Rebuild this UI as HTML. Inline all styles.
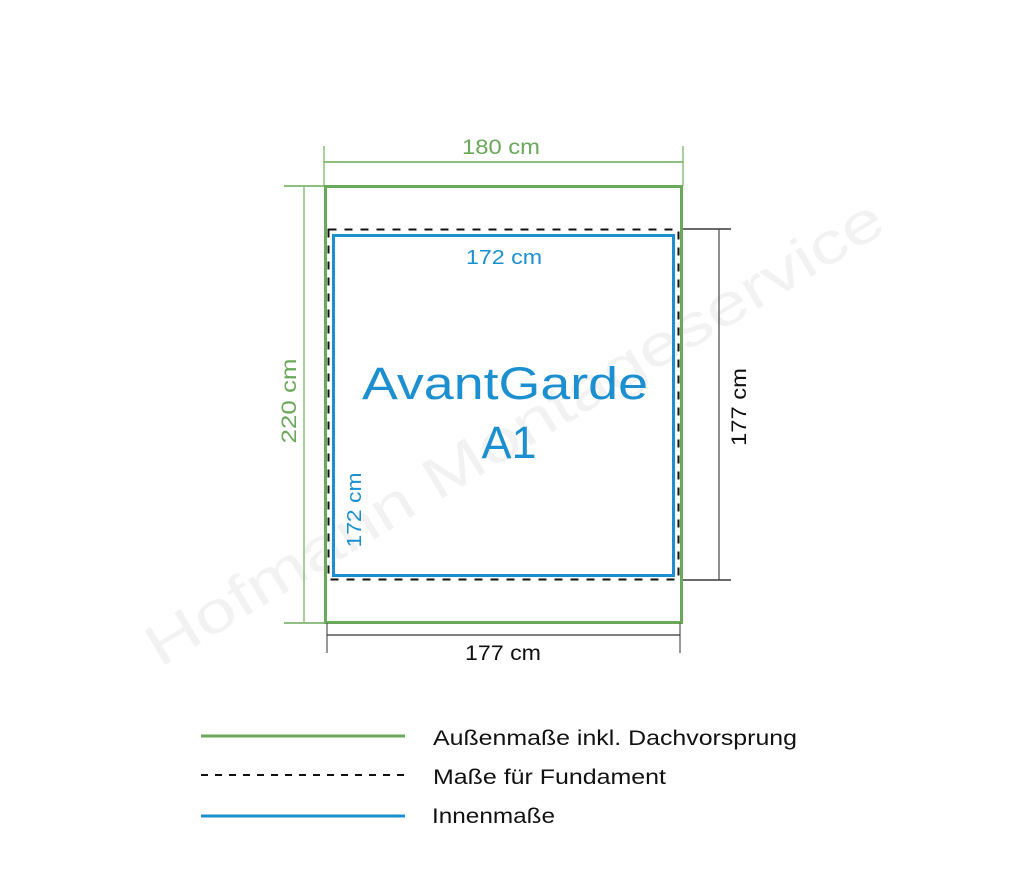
<!DOCTYPE html>
<html><head><meta charset="utf-8"><style>
html,body{margin:0;padding:0;background:#fff;width:1024px;height:890px;overflow:hidden}
svg{display:block}
text{font-family:"Liberation Sans",sans-serif}
</style></head><body>
<svg width="1024" height="890" viewBox="0 0 1024 890" xmlns="http://www.w3.org/2000/svg">
<text x="0" y="0" font-size="58" fill="#f2f2f2" transform="translate(160,668) rotate(-31)" textLength="850" lengthAdjust="spacingAndGlyphs">Hofmann Montageservice</text>

<line x1="324" y1="146" x2="324" y2="186" stroke="#8cc07a" stroke-width="1.5"/>
<line x1="683" y1="146" x2="683" y2="186" stroke="#8cc07a" stroke-width="1.5"/>
<line x1="324" y1="162" x2="683" y2="162" stroke="#6aa85a" stroke-width="1.5"/>
<text x="501" y="154" font-size="21" fill="#6aa85a" text-anchor="middle" textLength="78" lengthAdjust="spacingAndGlyphs">180 cm</text>

<line x1="284" y1="186" x2="324" y2="186" stroke="#6aa85a" stroke-width="1.5"/>
<line x1="284" y1="623" x2="324" y2="623" stroke="#6aa85a" stroke-width="1.5"/>
<line x1="304" y1="186" x2="304" y2="623" stroke="#8cc07a" stroke-width="1.5"/>
<text x="0" y="0" font-size="21" fill="#6aa85a" text-anchor="middle" transform="translate(296,401) rotate(-90)" textLength="85" lengthAdjust="spacingAndGlyphs">220 cm</text>

<rect x="325.5" y="186.5" width="356" height="436" fill="none" stroke="#6aa85a" stroke-width="3"/>
<rect x="328.5" y="229.5" width="350" height="350" fill="none" stroke="#111" stroke-width="2" stroke-dasharray="8,8"/>
<rect x="333.5" y="235.5" width="340" height="340" fill="none" stroke="#1b8fd0" stroke-width="3"/>
<text x="504" y="264" font-size="20" fill="#1b8fd0" text-anchor="middle" textLength="76" lengthAdjust="spacingAndGlyphs">172 cm</text>
<text x="0" y="0" font-size="20" fill="#1b8fd0" text-anchor="middle" transform="translate(361,510) rotate(-90)" textLength="75" lengthAdjust="spacingAndGlyphs">172 cm</text>
<text x="505" y="399" font-size="45" fill="#1b8fd0" text-anchor="middle" textLength="286" lengthAdjust="spacingAndGlyphs">AvantGarde</text>
<text x="509" y="458" font-size="45" fill="#1b8fd0" text-anchor="middle">A1</text>

<line x1="683" y1="229" x2="731" y2="229" stroke="#111" stroke-width="1.2"/>
<line x1="683" y1="580" x2="731" y2="580" stroke="#111" stroke-width="1.2"/>
<line x1="719" y1="229" x2="719" y2="580" stroke="#444" stroke-width="1.2"/>
<text x="0" y="0" font-size="21" fill="#111" text-anchor="middle" transform="translate(746,407) rotate(-90)" textLength="78" lengthAdjust="spacingAndGlyphs">177 cm</text>

<line x1="327" y1="623" x2="327" y2="653" stroke="#555" stroke-width="1.2"/>
<line x1="680" y1="623" x2="680" y2="653" stroke="#555" stroke-width="1.2"/>
<line x1="327" y1="635" x2="680" y2="635" stroke="#333" stroke-width="1.2"/>
<text x="503" y="660" font-size="21" fill="#111" text-anchor="middle" textLength="76" lengthAdjust="spacingAndGlyphs">177 cm</text>

<line x1="201" y1="736" x2="405" y2="736" stroke="#6aa85a" stroke-width="3"/>
<line x1="201" y1="775" x2="405" y2="775" stroke="#111" stroke-width="2" stroke-dasharray="7,7"/>
<line x1="201" y1="816" x2="405" y2="816" stroke="#1b8fd0" stroke-width="3"/>
<text x="433" y="745" font-size="21" fill="#111" textLength="364" lengthAdjust="spacingAndGlyphs">Außenmaße inkl. Dachvorsprung</text>
<text x="433" y="784" font-size="21" fill="#111" textLength="233" lengthAdjust="spacingAndGlyphs">Maße für Fundament</text>
<text x="432" y="823" font-size="21" fill="#111" textLength="123" lengthAdjust="spacingAndGlyphs">Innenmaße</text>
</svg>
</body></html>
